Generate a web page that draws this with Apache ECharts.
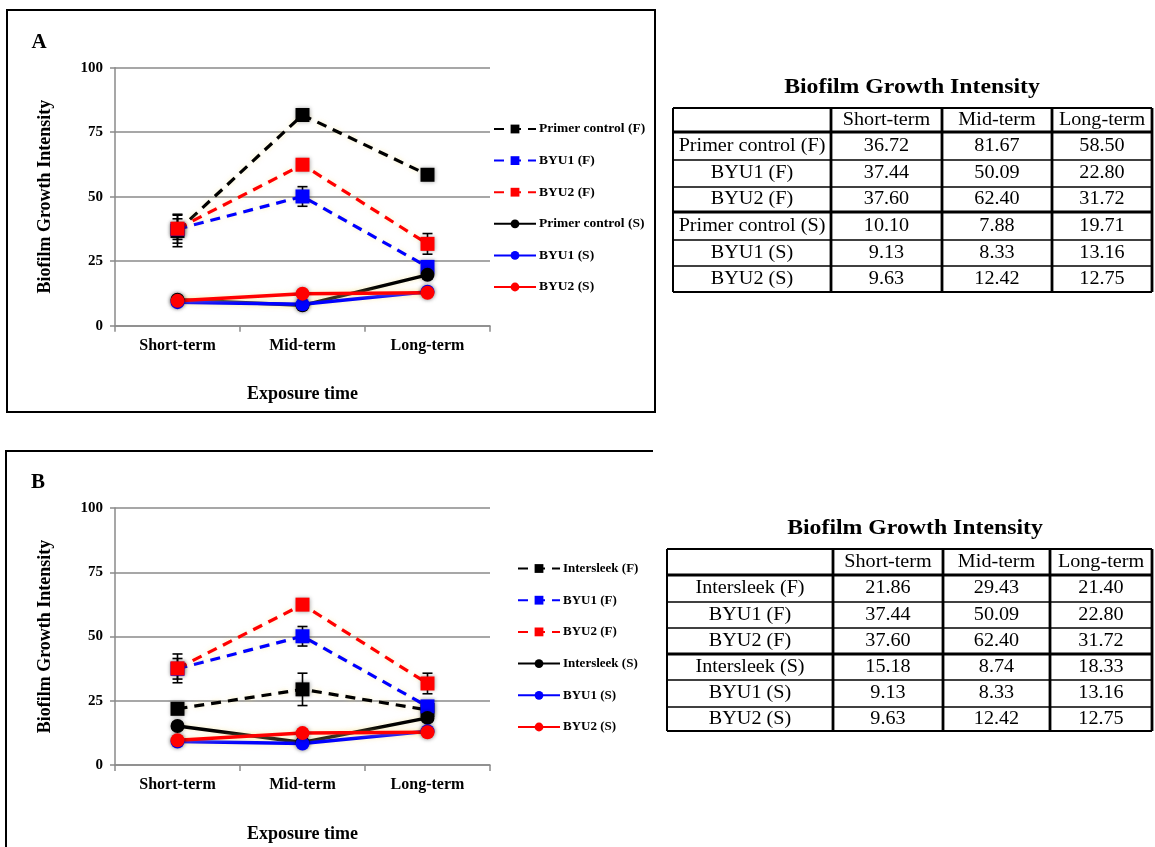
<!DOCTYPE html>
<html>
<head>
<meta charset="utf-8">
<script src="https://cdn.jsdelivr.net/npm/echarts@6/dist/echarts.min.js"></script>
<style>
  html, body { margin: 0; padding: 0; background: #ffffff; }
  #chart { width: 1155px; height: 847px; }
</style>
</head>
<body>
<div id="chart"></div>
<script>
// ---- data ----
const categories = ['Short-term', 'Mid-term', 'Long-term'];
const yTicks = [0, 25, 50, 75, 100];

// panel A series (means)
const primerF = [36.72, 81.67, 58.50];
const byu1F = [37.44, 50.09, 22.80];
const byu2F = [37.60, 62.40, 31.72];
const primerS = [10.10, 7.88, 19.71];
const byu1S = [9.13, 8.33, 13.16];
const byu2S = [9.63, 12.42, 12.75];

// panel B reference coating (means)
const intersleekF = [21.86, 29.43, 21.40];
const intersleekS = [15.18, 8.74, 18.33];

// error bar half-widths (estimated)
const primerFErr = [6.1, 1.5, 1.5];
const byu1FErr = [4.0, 3.8, 1.5];
const byu2FErr = [5.6, 1.5, 4.0];
const primerSErr = [1.0, 1.0, 1.5];
const byu1SErr = [1.0, 1.0, 1.0];
const byu2SErr = [1.0, 1.0, 1.0];
const intersleekFErr = [1.5, 6.3, 1.0];
const intersleekSErr = [1.5, 1.0, 1.5];

// legend / table row names
const namesA = ['Primer control (F)', 'BYU1 (F)', 'BYU2 (F)', 'Primer control (S)', 'BYU1 (S)', 'BYU2 (S)'];
const namesB = ['Intersleek (F)', 'BYU1 (F)', 'BYU2 (F)', 'Intersleek (S)', 'BYU1 (S)', 'BYU2 (S)'];

// ---- styling ----
const SERIF = '"Liberation Serif", "Times New Roman", serif';
const BLACK = '#000000';
const BLUE = '#0000ff';
const RED = '#ff0000';
const GRID_GRAY = '#8a8a8a';

const panelA = {
  grid: { left: 115, top: 67.7, width: 375, height: 258 },
  names: namesA,
  values: [primerF, byu1F, byu2F, primerS, byu1S, byu2S],
  errors: [primerFErr, byu1FErr, byu2FErr, primerSErr, byu1SErr, byu2SErr],
  legend: { left: 493, top: 122, fontSize: 13.5, gap: 17.6 },
  table: { xs: [673, 831, 942, 1052, 1152], ys: [108, 132, 160, 187, 212, 240, 266, 292], titleX: 912, titleY: 87 }
};
const panelB = {
  grid: { left: 115, top: 508, width: 375, height: 257 },
  names: namesB,
  values: [intersleekF, byu1F, byu2F, intersleekS, byu1S, byu2S],
  errors: [intersleekFErr, byu1FErr, byu2FErr, intersleekSErr, byu1SErr, byu2SErr],
  legend: { left: 517, top: 562, fontSize: 13, gap: 18.7 },
  table: { xs: [667, 833, 943, 1050, 1152], ys: [549, 575, 602, 628, 654, 680, 707, 731], titleX: 915, titleY: 528 }
};
const colors = [BLACK, BLUE, RED, BLACK, BLUE, RED];
const dashedFlags = [true, true, true, false, false, false];

function xAxisFor(gi) {
  return {
    type: 'category', gridIndex: gi, data: categories, boundaryGap: true,
    axisLine: { show: true, lineStyle: { color: GRID_GRAY, width: 1.5 } },
    axisTick: { show: true, length: 6, lineStyle: { color: GRID_GRAY, width: 1.5 } },
    axisLabel: { margin: 12, color: BLACK, fontFamily: SERIF, fontWeight: 'bold', fontSize: 16 },
    name: 'Exposure time', nameLocation: 'middle', nameGap: 60,
    nameTextStyle: { color: BLACK, fontFamily: SERIF, fontWeight: 'bold', fontSize: 18 }
  };
}
function yAxisFor(gi) {
  return {
    type: 'value', gridIndex: gi, min: 0, max: 100, interval: 25,
    axisLine: { show: true, lineStyle: { color: GRID_GRAY, width: 1.5 } },
    axisTick: { show: true, length: 5, lineStyle: { color: GRID_GRAY, width: 1.5 } },
    splitLine: { show: true, lineStyle: { color: GRID_GRAY, width: 1.5 } },
    axisLabel: {
      margin: 12, color: BLACK, fontFamily: SERIF, fontWeight: 'bold', fontSize: 15,
      formatter: v => (yTicks.indexOf(v) >= 0 ? String(v) : '')
    },
    name: 'Biofilm Growth Intensity', nameLocation: 'middle', nameGap: 61, nameRotate: 90,
    nameTextStyle: { color: BLACK, fontFamily: SERIF, fontWeight: 'bold', fontSize: 18 }
  };
}

function errorSeries(gi, values, errs) {
  return {
    type: 'custom', xAxisIndex: gi, yAxisIndex: gi, silent: true,
    encode: { x: 0, y: [1, 2] },
    data: values.map((v, i) => [i, v - errs[i], v + errs[i]]),
    renderItem: function (params, api) {
      const lo = api.coord([api.value(0), api.value(1)]);
      const hi = api.coord([api.value(0), api.value(2)]);
      const hw = 5;
      const st = { stroke: BLACK, lineWidth: 1.6 };
      return {
        type: 'group',
        children: [
          { type: 'line', shape: { x1: lo[0], y1: lo[1], x2: hi[0], y2: hi[1] }, style: st },
          { type: 'line', shape: { x1: lo[0] - hw, y1: lo[1], x2: lo[0] + hw, y2: lo[1] }, style: st },
          { type: 'line', shape: { x1: hi[0] - hw, y1: hi[1], x2: hi[0] + hw, y2: hi[1] }, style: st }
        ]
      };
    }
  };
}

function lineSeries(gi, name, data, color, dashed) {
  return {
    type: 'line', name: name, data: data, xAxisIndex: gi, yAxisIndex: gi,
    symbol: dashed ? 'rect' : 'circle',
    symbolSize: 14,
    showAllSymbol: true,
    lineStyle: {
      color: color, width: dashed ? 3.2 : 3.5, type: dashed ? [10, 7] : 'solid',
      shadowColor: 'rgba(245, 225, 140, 0.55)', shadowBlur: 5
    },
    itemStyle: { color: color, shadowColor: 'rgba(0, 0, 0, 0.35)', shadowBlur: 4 },
    emphasis: { disabled: true }
  };
}

function legendFor(panel) {
  return {
    orient: 'vertical', left: panel.legend.left, top: panel.legend.top, padding: 0,
    itemWidth: 42, itemHeight: 11, itemGap: panel.legend.gap,
    data: panel.names,
    selectedMode: false,
    textStyle: { color: BLACK, fontFamily: SERIF, fontWeight: 'bold', fontSize: panel.legend.fontSize,
      lineHeight: 12, padding: [0, 0, 0, -2] }
  };
}

function tableGraphics(panel) {
  const t = panel.table;
  const xs = t.xs, ys = t.ys;
  const els = [];
  els.push({
    type: 'text', x: t.titleX, y: t.titleY, scaleX: 1.08,
    style: { text: 'Biofilm Growth Intensity', align: 'center', verticalAlign: 'middle',
      font: 'bold 22px ' + SERIF, fill: BLACK }
  });
  const cellFont = '18px ' + SERIF;
  const sx = 1.12;
  const cx = j => (xs[j] + xs[j + 1]) / 2;
  const cy = i => (ys[i] + ys[i + 1]) / 2;
  categories.forEach((c, j) => {
    els.push({ type: 'text', x: cx(j + 1), y: cy(0), scaleX: sx,
      style: { text: c, align: 'center', verticalAlign: 'middle', font: cellFont, fill: BLACK } });
  });
  panel.names.forEach((n, i) => {
    els.push({ type: 'text', x: cx(0), y: cy(i + 1), scaleX: sx,
      style: { text: n, align: 'center', verticalAlign: 'middle', font: cellFont, fill: BLACK } });
    panel.values[i].forEach((v, j) => {
      els.push({ type: 'text', x: cx(j + 1), y: cy(i + 1), scaleX: sx,
        style: { text: v.toFixed(2), align: 'center', verticalAlign: 'middle', font: cellFont, fill: BLACK } });
    });
  });
  ys.forEach((y, i) => {
    let w = 1.6;
    if (i === 0 || i === ys.length - 1) w = 2.2;
    if (i === 1 || i === 4) w = 3;
    els.push({ type: 'line', shape: { x1: xs[0], y1: y, x2: xs[xs.length - 1], y2: y },
      style: { stroke: BLACK, lineWidth: w } });
  });
  xs.forEach((x, j) => {
    els.push({ type: 'line', shape: { x1: x, y1: ys[0], x2: x, y2: ys[ys.length - 1] },
      style: { stroke: BLACK, lineWidth: j === 0 ? 2 : 2.8 } });
  });
  return els;
}

const panels = [panelA, panelB];
const series = [];
panels.forEach((p, gi) => {
  p.values.forEach((vals, k) => series.push(errorSeries(gi, vals, p.errors[k])));
  p.values.forEach((vals, k) => series.push(lineSeries(gi, p.names[k], vals, colors[k], dashedFlags[k])));
});

const graphic = [
  // panel frames
  { type: 'rect', shape: { x: 7, y: 10, width: 648, height: 402 },
    style: { fill: 'none', stroke: BLACK, lineWidth: 2 } },
  { type: 'polyline', shape: { points: [[6, 850], [6, 451], [653, 451]] },
    style: { fill: 'none', stroke: BLACK, lineWidth: 2 } },
  { type: 'text', x: 39, y: 43,
    style: { text: 'A', align: 'center', verticalAlign: 'middle', font: 'bold 21px ' + SERIF, fill: BLACK } },
  { type: 'text', x: 38, y: 483,
    style: { text: 'B', align: 'center', verticalAlign: 'middle', font: 'bold 21px ' + SERIF, fill: BLACK } }
].concat(tableGraphics(panelA), tableGraphics(panelB));

const chart = echarts.init(document.getElementById('chart'), null, { renderer: 'canvas' });
chart.setOption({
  animation: false,
  backgroundColor: '#ffffff',
  grid: [panelA.grid, panelB.grid],
  xAxis: [xAxisFor(0), xAxisFor(1)],
  yAxis: [yAxisFor(0), yAxisFor(1)],
  legend: [legendFor(panelA), legendFor(panelB)],
  series: series,
  graphic: graphic
});
</script>
</body>
</html>
